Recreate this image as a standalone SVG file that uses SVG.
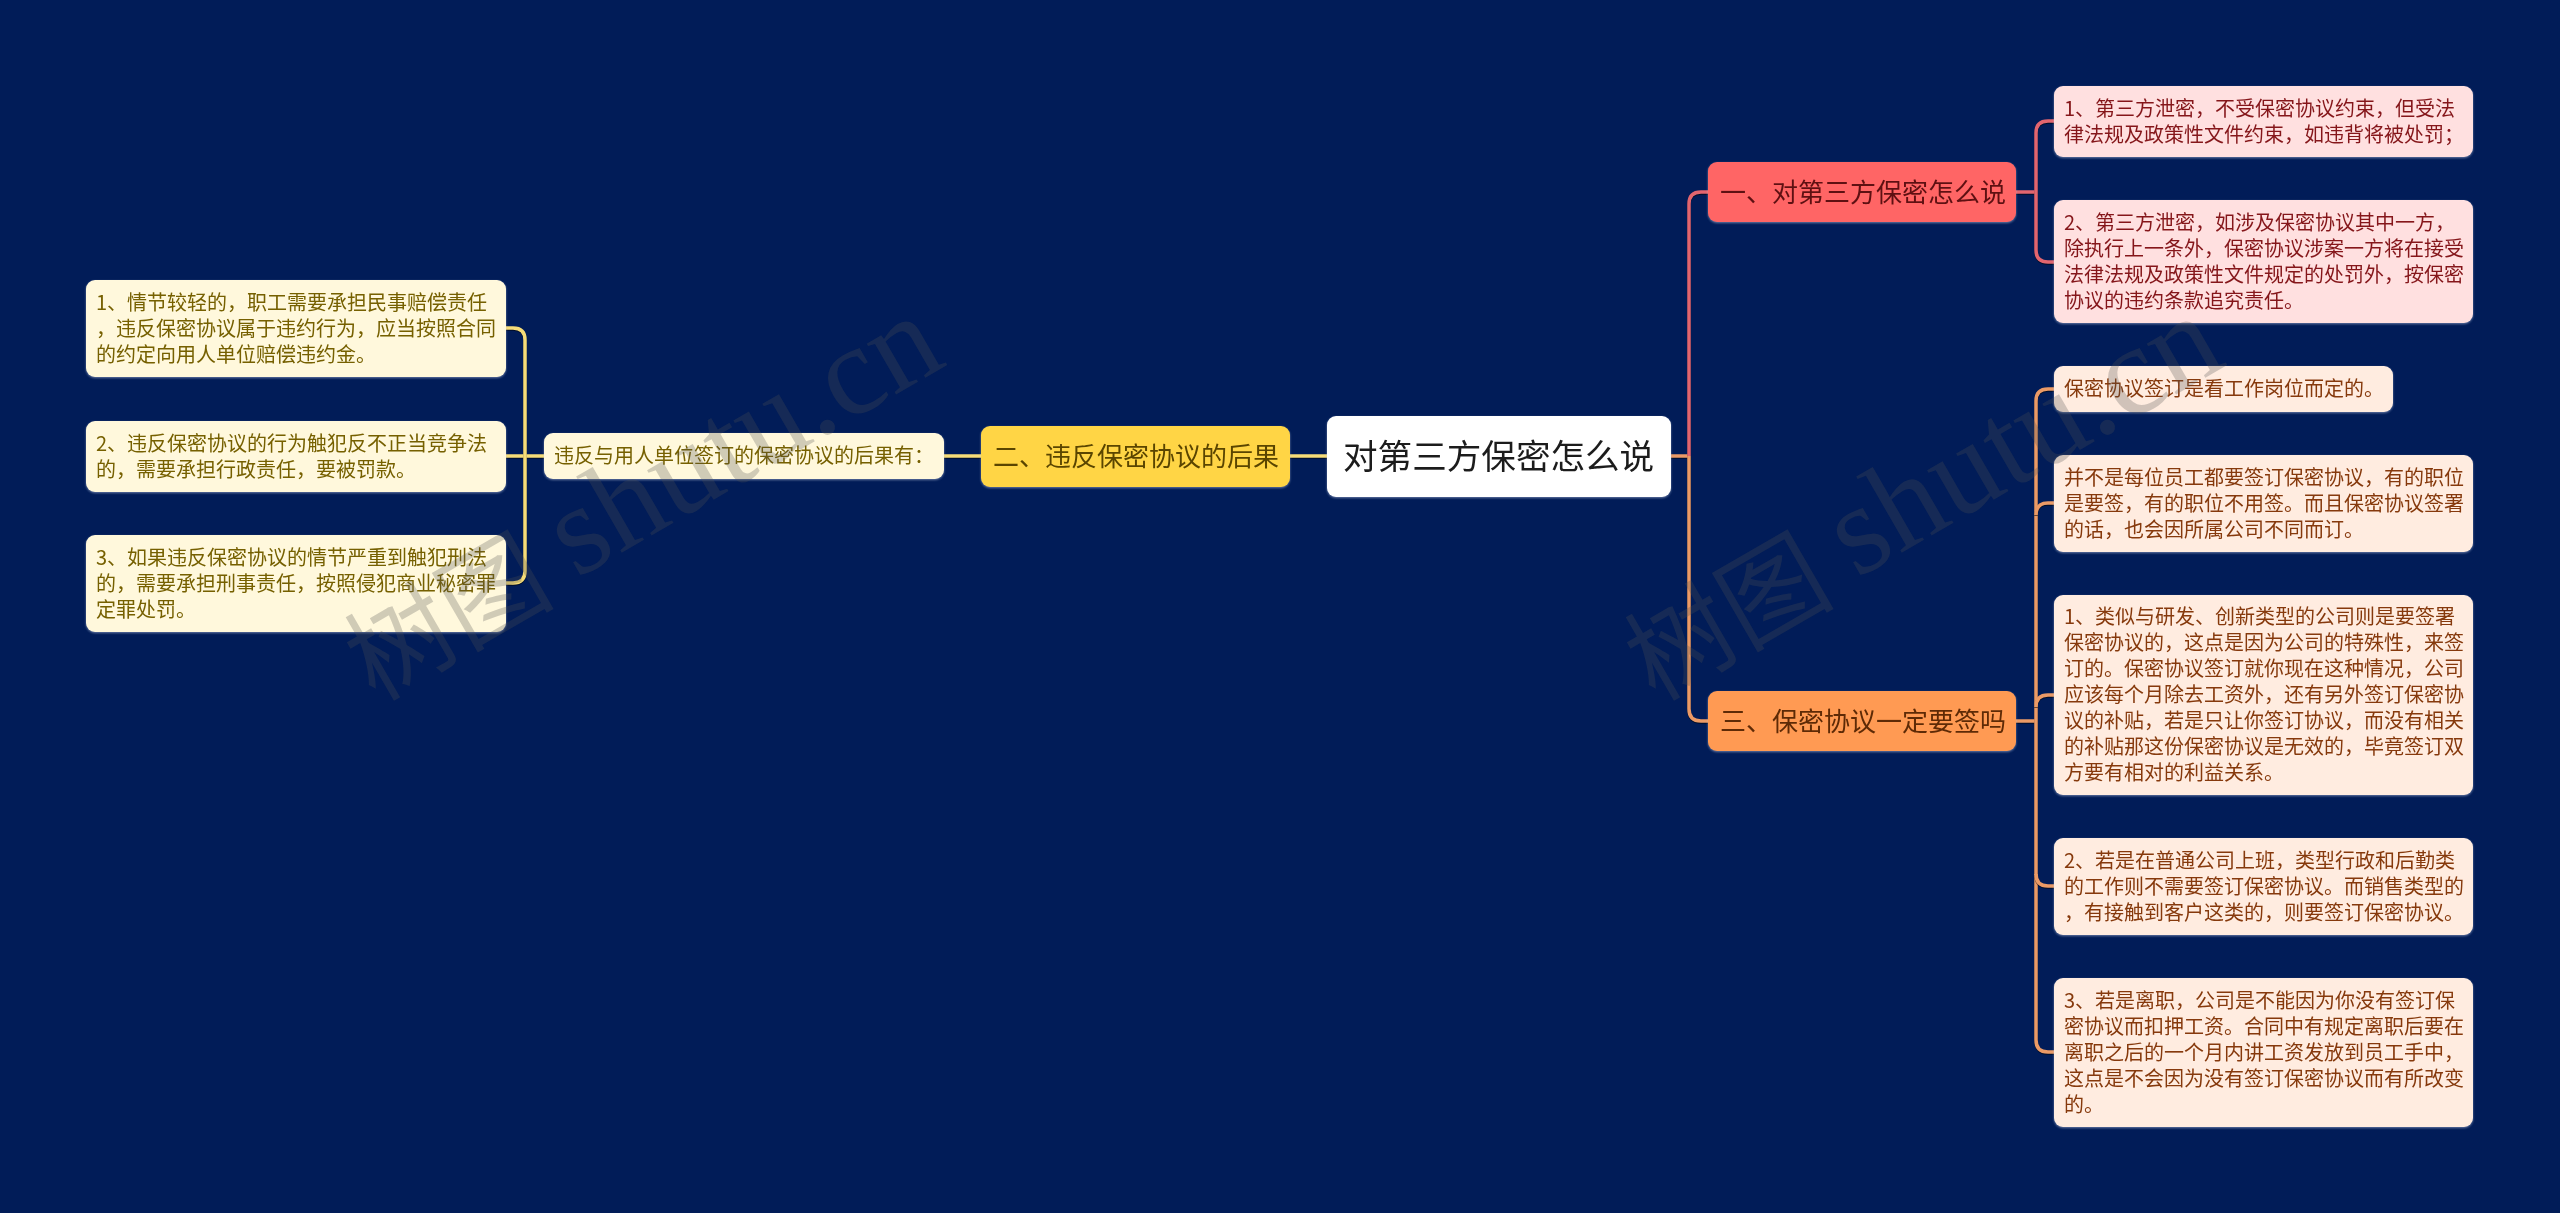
<svg xmlns="http://www.w3.org/2000/svg" width="2560" height="1213" viewBox="0 0 2560 1213">
<style>
text{font-family:"Noto Sans CJK SC","Noto Sans",sans-serif}
.box{filter:drop-shadow(0 1px 1px rgba(190,200,225,.55))}
.leaf text{font-size:20px}
.red rect{fill:#ffe0e0}.red text{fill:#85161a}
.org rect{fill:#ffece0}.org text{fill:#86390c}
.yel rect{fill:#fff8dc}.yel text{fill:#766000}
.main text{font-size:26px}
.c{fill:none;stroke-width:3.5;filter:drop-shadow(0 1px 0 rgba(0,0,0,.55))}
.cr{stroke:#e2656f}.co{stroke:#eb9a66}.cy{stroke:#f6dc78}
.wm{fill:#505050;fill-opacity:.27}
.wm .zh{font-family:"Noto Sans CJK SC",sans-serif;font-size:105px}
.wm .en{font-family:"Liberation Serif",serif;font-size:128px}
</style>
<rect id="background" width="2560" height="1213" fill="#011c58"/>
<g id="connectors">
<path class="c co" d="M1671 456H1689"/>
<path class="c cr" d="M1689 456V204Q1689 192 1701 192H1708"/>
<path class="c co" d="M1689 456V709Q1689 721 1701 721H1708"/>
<path class="c cy" d="M1290 456H1327"/>
<path class="c cy" d="M944 456H981"/>
<path class="c cr" d="M2016 192H2036"/>
<path class="c cr" d="M2054 121H2048Q2036 121 2036 133V250Q2036 262 2048 262H2054"/>
<path class="c co" d="M2016 721H2036"/>
<path class="c co" d="M2054 389H2048Q2036 389 2036 401V1040Q2036 1052 2048 1052H2054"/>
<path class="c co" d="M2036 515Q2036 503 2048 503H2054"/>
<path class="c co" d="M2036 707Q2036 695 2048 695H2054"/>
<path class="c co" d="M2036 874Q2036 886 2048 886H2054"/>
<path class="c cy" d="M544 456H506"/>
<path class="c cy" d="M506 328H513Q525 328 525 340V571Q525 583 513 583H506"/>
</g>
<g id="root" class="box"><rect x="1327" y="416" width="344" height="81" rx="9" fill="#fff"/><text x="1343" y="469" font-size="34.6" fill="#1c1c1c">对第三方保密怎么说</text></g>
<g id="n1" class="box main"><rect x="1708" y="162" width="308" height="60" rx="9" fill="#ff6565"/><text x="1720" y="202" fill="#5e1012">一、对第三方保密怎么说</text></g>
<g id="n3" class="box main"><rect x="1708" y="691" width="308" height="60" rx="9" fill="#ff9a53"/><text x="1720" y="731" fill="#5e2a06">三、保密协议一定要签吗</text></g>
<g id="n2" class="box main"><rect x="981" y="426" width="309" height="61" rx="9" fill="#ffd545"/><text x="993" y="466" fill="#5a4500">二、违反保密协议的后果</text></g>
<g id="mid" class="box leaf yel"><rect x="544" y="433" width="400" height="46" rx="9"/><text x="554" y="463">违反与用人单位签订的保密协议的后果有：</text></g>
<g id="l1" class="box leaf yel"><rect x="86" y="280" width="420" height="97" rx="9"/><text><tspan x="96" y="309.5">1、情节较轻的，职工需要承担民事赔偿责任</tspan><tspan x="96" y="335.5">，违反保密协议属于违约行为，应当按照合同</tspan><tspan x="96" y="361.5">的约定向用人单位赔偿违约金。</tspan></text></g>
<g id="l2" class="box leaf yel"><rect x="86" y="421" width="420" height="71" rx="9"/><text><tspan x="96" y="450.5">2、违反保密协议的行为触犯反不正当竞争法</tspan><tspan x="96" y="476.5">的，需要承担行政责任，要被罚款。</tspan></text></g>
<g id="l3" class="box leaf yel"><rect x="86" y="535" width="420" height="97" rx="9"/><text><tspan x="96" y="564.5">3、如果违反保密协议的情节严重到触犯刑法</tspan><tspan x="96" y="590.5">的，需要承担刑事责任，按照侵犯商业秘密罪</tspan><tspan x="96" y="616.5">定罪处罚。</tspan></text></g>
<g id="r1" class="box leaf red"><rect x="2054" y="86" width="419" height="71" rx="9"/><text><tspan x="2064" y="116">1、第三方泄密，不受保密协议约束，但受法</tspan><tspan x="2064" y="142">律法规及政策性文件约束，如违背将被处罚；</tspan></text></g>
<g id="r2" class="box leaf red"><rect x="2054" y="200" width="419" height="123" rx="9"/><text><tspan x="2064" y="229.5">2、第三方泄密，如涉及保密协议其中一方，</tspan><tspan x="2064" y="255.5">除执行上一条外，保密协议涉案一方将在接受</tspan><tspan x="2064" y="281.5">法律法规及政策性文件规定的处罚外，按保密</tspan><tspan x="2064" y="307.5">协议的违约条款追究责任。</tspan></text></g>
<g id="r3" class="box leaf org"><rect x="2054" y="366" width="339" height="46" rx="9"/><text x="2064" y="396">保密协议签订是看工作岗位而定的。</text></g>
<g id="r4" class="box leaf org"><rect x="2054" y="455" width="419" height="97" rx="9"/><text><tspan x="2064" y="484.5">并不是每位员工都要签订保密协议，有的职位</tspan><tspan x="2064" y="510.5">是要签，有的职位不用签。而且保密协议签署</tspan><tspan x="2064" y="536.5">的话，也会因所属公司不同而订。</tspan></text></g>
<g id="r5" class="box leaf org"><rect x="2054" y="595" width="419" height="200" rx="9"/><text><tspan x="2064" y="624">1、类似与研发、创新类型的公司则是要签署</tspan><tspan x="2064" y="650">保密协议的，这点是因为公司的特殊性，来签</tspan><tspan x="2064" y="676">订的。保密协议签订就你现在这种情况，公司</tspan><tspan x="2064" y="702">应该每个月除去工资外，还有另外签订保密协</tspan><tspan x="2064" y="728">议的补贴，若是只让你签订协议，而没有相关</tspan><tspan x="2064" y="754">的补贴那这份保密协议是无效的，毕竟签订双</tspan><tspan x="2064" y="780">方要有相对的利益关系。</tspan></text></g>
<g id="r6" class="box leaf org"><rect x="2054" y="838" width="419" height="97" rx="9"/><text><tspan x="2064" y="867.5">2、若是在普通公司上班，类型行政和后勤类</tspan><tspan x="2064" y="893.5">的工作则不需要签订保密协议。而销售类型的</tspan><tspan x="2064" y="919.5">，有接触到客户这类的，则要签订保密协议。</tspan></text></g>
<g id="r7" class="box leaf org"><rect x="2054" y="978" width="419" height="149" rx="9"/><text><tspan x="2064" y="1007.5">3、若是离职，公司是不能因为你没有签订保</tspan><tspan x="2064" y="1033.5">密协议而扣押工资。合同中有规定离职后要在</tspan><tspan x="2064" y="1059.5">离职之后的一个月内讲工资发放到员工手中，</tspan><tspan x="2064" y="1085.5">这点是不会因为没有签订保密协议而有所改变</tspan><tspan x="2064" y="1111.5">的。</tspan></text></g>
<g id="watermarks">
<text class="wm" transform="translate(566 585) rotate(-30)"><tspan class="zh" x="-224" y="6">树图</tspan><tspan class="en" x="12" y="0">shutu.cn</tspan></text>
<text class="wm" transform="translate(1846 585) rotate(-30)"><tspan class="zh" x="-224" y="6">树图</tspan><tspan class="en" x="12" y="0">shutu.cn</tspan></text>
</g>
</svg>
